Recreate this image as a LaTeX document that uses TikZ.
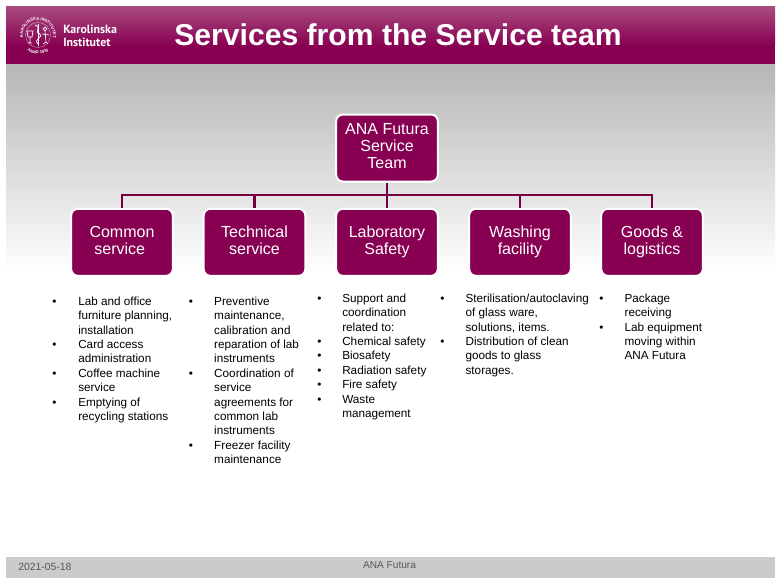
\documentclass[tikz,border=0pt]{standalone}
\usepackage{fontspec}
\setmainfont{Liberation Sans}
\newfontfamily\logofont{PT Sans}
\usetikzlibrary{decorations.text}
\definecolor{kiplum}{HTML}{870052}
\definecolor{kilight}{HTML}{A84A7E}
\definecolor{kiline}{HTML}{75003F}
\definecolor{footgray}{HTML}{CBCBCB}
\definecolor{bandgray}{HTML}{B6B6B6}
\definecolor{foottext}{HTML}{595959}
\newcommand{\bl}{\textbullet}
% struts that keep every box label at the same height inside its box
\newcommand{\topst}{\rule{0pt}{9pt}}
\newcommand{\botst}{\rule[-3.2pt]{0pt}{3.2pt}}
\tikzset{
  x=0.75pt, y=-0.75pt,
  teambox/.style={draw=white, line width=1.5pt, fill=kiplum, rounded corners=5pt,
    minimum width=76.2pt, minimum height=50.25pt, inner sep=0pt, align=center, text=white,
    font=\fontsize{12}{12.75}\selectfont},
  link/.style={draw=kiline, line width=1.7pt},
  trunk/.style={draw=kiline, line width=2pt},
  detail/.style={anchor=north west, inner sep=0pt, align=left,
    font=\fontsize{8.8}{10.8}\selectfont},
  foot/.style={inner sep=0pt, text=foottext, font=\fontsize{7.8}{9}\selectfont},
  sealtext/.style={postaction={decorate, decoration={text along path, text align=center, text={#1}}}},
}
\begin{document}
\begin{tikzpicture}
\useasboundingbox (0,0) rectangle (780,585);
\fill[white] (0,0) rectangle (780,585);
% page background band under the title
\shade[top color=bandgray, bottom color=white] (6,64) rectangle (775,272);
% title band
\shade[top color=kilight, bottom color=kiplum] (6,7) rectangle (775,46);
\fill[kiplum] (6,45.5) rectangle (775,64);
\node[inner sep=0pt, text=white, font=\fontsize{22.6}{26}\bfseries\selectfont] (title) at (398,35) {Services from the Service team};
% footer band
\fill[footgray] (6,557) rectangle (775,578);
\node[foot, anchor=west] (date) at (18,566.5) {2021-05-18};
\node[foot, font=\fontsize{7.6}{9}\selectfont] (org) at (389.5,565.5) {ANA Futura};

% seal of the university
\begin{scope}[white]
  \draw[line width=0.25pt, white!70!kiplum] (38,35) circle [radius=12.5];
  \path[sealtext={|\fontsize{3.1}{3}\bfseries\selectfont\color{white}|KAROLINSKA INSTITUTET}]
    (25,42.5) arc [start angle=150, end angle=390, radius=15];
  \path[sealtext={|\fontsize{3.1}{3}\bfseries\selectfont\color{white}|ANNO 1810}]
    (25.8,49.6) arc [start angle=130, end angle=50, radius=19];
  \draw[line width=0.6pt] (38,24) -- (38,46);
  \draw[line width=0.6pt] (35,25) .. controls (43,28) and (33,31) .. (40,34)
     .. controls (44,37) and (33,39) .. (38,44);
  \draw[line width=0.5pt] (27,31) -- (33,31) -- (32,37) -- (28,37) -- cycle (30,37) -- (30,43) (28,43) -- (32,43);
  \draw[line width=0.5pt] (45,29) circle [radius=1.8] (45,31) -- (46,42) (42,34) -- (49,35) (46,42) -- (43,44) (46,42) -- (48,44);
\end{scope}
\node[inner sep=0pt, anchor=west, align=left, text=white,
  font=\logofont\fontsize{8.95}{9.4}\bfseries\selectfont] (brand) at (63,36) {Karolinska\\Institutet};

% organisation chart
\node[teambox] (team) at (387,148) {\topst ANA Futura\\Service\\Team\botst};
\node[teambox] (common) at (122,242.3) {\topst Common\\service\hspace*{3.4pt}\botst};
\node[teambox] (technical) at (254.5,242.3) {\topst Technical\\service\botst};
\node[teambox] (safety) at (387,242.3) {\topst Laboratory\\Safety\botst};
\node[teambox] (washing) at (520,242.3) {\topst Washing\\facility\botst};
\node[teambox] (goods) at (652,242.3) {\topst Goods \&\\logistics\botst};
\coordinate (bus) at (387,195);
\foreach \child in {common,technical,washing,goods}
  \draw[link] (bus) -| (\child.north);
\draw[trunk] (team.south) -- (safety.north);

% service descriptions
\node[detail] (d1) at (52,295) {\begin{tabular}{@{}p{19.5pt}@{}l@{}}
\bl & Lab and office\\ & furniture planning,\\ & installation\\
\bl & Card access\\ & administration\\
\bl & Coffee machine\\ & service\\
\bl & Emptying of\\ & recycling stations
\end{tabular}};
\node[detail] (d2) at (188.5,295) {\begin{tabular}{@{}p{19.1pt}@{}l@{}}
\bl & Preventive\\ & maintenance,\\ & calibration and\\ & reparation of lab\\ & instruments\\
\bl & Coordination of\\ & service\\ & agreements for\\ & common lab\\ & instruments\\
\bl & Freezer facility\\ & maintenance
\end{tabular}};
\node[detail] (d3) at (317,292) {\begin{tabular}{@{}p{18.75pt}@{}l@{}}
\bl & Support and\\ & coordination\\ & related to:\\
\bl & Chemical safety\\
\bl & Biosafety\\
\bl & Radiation safety\\
\bl & Fire safety\\
\bl & Waste\\ & management
\end{tabular}};
\node[detail] (d4) at (440,292) {\begin{tabular}{@{}p{19pt}@{}l@{}}
\bl & Sterilisation/autoclaving\\ & of glass ware,\\ & solutions, items.\\
\bl & Distribution of clean\\ & goods to glass\\ & storages.
\end{tabular}};
\node[detail] (d5) at (599,292) {\begin{tabular}{@{}p{19pt}@{}l@{}}
\bl & Package\\ & receiving\\
\bl & Lab equipment\\ & moving within\\ & ANA Futura
\end{tabular}};
\end{tikzpicture}
\end{document}
